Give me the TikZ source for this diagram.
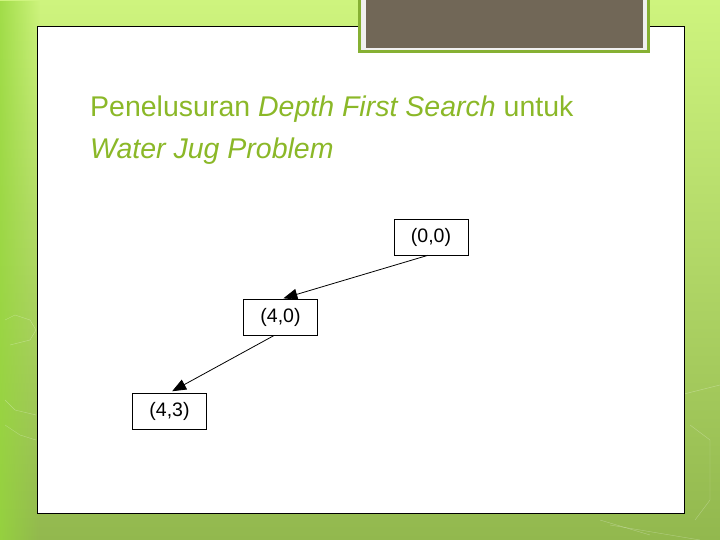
\documentclass[tikz,border=0pt]{standalone}
\usepackage{fontspec}
\setmainfont{Liberation Sans}
\usepackage{tikz}
\usetikzlibrary{arrows.meta,fadings}
\definecolor{bgtop}{RGB}{206,244,126}
\definecolor{bgbot}{RGB}{146,184,78}
\definecolor{bgleft}{RGB}{150,215,60}
\definecolor{tabgreen}{RGB}{134,176,51}
\definecolor{tabfill}{RGB}{113,103,87}
\definecolor{titlegreen}{RGB}{139,184,40}
\tikzfading[name=fadeleft, left color=transparent!0, right color=transparent!100]
\tikzset{state/.style={draw, line width=0.6pt, fill=white, minimum width=74pt, minimum height=36pt, inner sep=0pt, font=\fontsize{19.5}{21}\selectfont}}

\begin{document}
\begin{tikzpicture}[x=1pt, y=-1pt, every edge/.style={draw, line width=0.8pt, shorten >=3pt}]
  \useasboundingbox (0,0) rectangle (720,540);
  % background
  \shade[top color=bgtop, bottom color=bgbot] (0,0) rectangle (720,540);
  \fill[bgleft, path fading=fadeleft, opacity=0.8] (0,0) rectangle (40,540);
  \begin{scope}[white, opacity=0.3, thin]
    \draw (5,320) -- (15,315) -- (30,320) -- (36,330) -- (30,340) -- (10,345);
    \draw (5,400) -- (15,410) -- (36,415);
    \draw (5,425) -- (20,435) -- (36,440);
    \draw (630,410) -- (680,395) -- (720,385);
    \draw (690,425) -- (710,440) -- (710,500) -- (695,520);
    \draw (600,520) -- (650,535);
    \draw (610,525) -- (700,540);
  \end{scope}
  % slide
  \draw[fill=white] (37,26) rectangle (684,513);
  % tab
  \fill[tabgreen] (358,0) rectangle (650,53);
  \fill[white!94!black] (361,0) rectangle (647,50);
  \fill[tabfill] (366,0) rectangle (643,48);
  % title
  \node[anchor=base west, text=titlegreen, font=\fontsize{28.5}{42}\selectfont, inner sep=0pt, align=left] (title) at (90,159)
    {Penelusuran \textit{Depth First Search} untuk\\ \textit{Water Jug Problem}};

  \node[state] at (431,237) (n00) {(0,0)};
  \node[state] at (280.5,317.5) (n40) {(4,0)};
  \node[state] at (169.5,411) (n43) {(4,3)};

  \draw ([xshift=-3pt]n00.south) edge[-{Triangle[length=14pt,width=11pt]}] (n40.north);
  \draw ([xshift=-7pt]n40.south) edge[-{Triangle[length=14pt,width=11pt]}] (n43.north);
\end{tikzpicture}
\end{document}
